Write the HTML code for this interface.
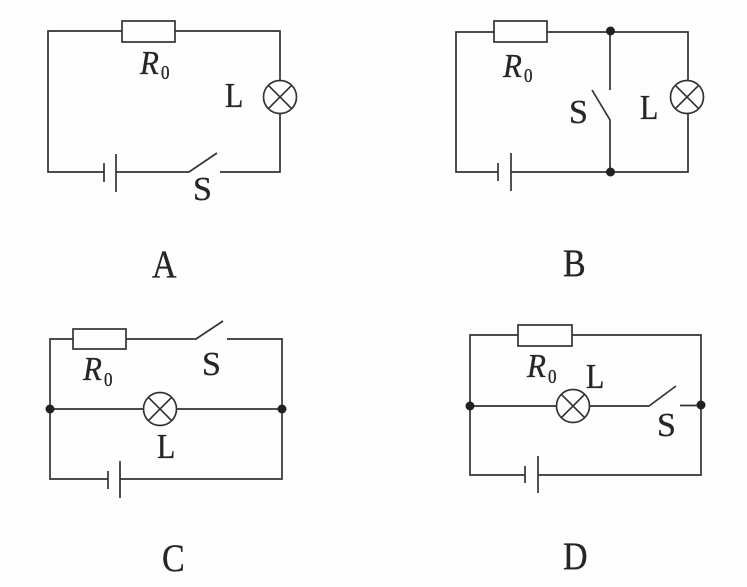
<!DOCTYPE html>
<html>
<head>
<meta charset="utf-8">
<style>
html,body{margin:0;padding:0;background:#fefefe;width:747px;height:587px;overflow:hidden}
svg{display:block}
.w{fill:none;stroke:#333;stroke-width:1.7}
.d{fill:#222;stroke:none}
text{font-family:"Liberation Serif",serif;fill:#262626;stroke:#262626;stroke-width:.3}
.l{font-size:30px}
.s{font-size:34px}
.n{font-size:34px}
.r{font-size:31px;font-style:italic}
.o{font-size:17px}
</style>
</head>
<body>
<svg width="747" height="587" viewBox="0 0 747 587" xmlns="http://www.w3.org/2000/svg">
<!-- A -->
<path class="w" d="M122 31H48V172H104M104 163V182M116 154V192M116 172H189L217 153M220 172H280V114M280 80V31H175"/>
<rect class="w" x="122" y="21" width="53" height="21"/>
<circle class="w" cx="280" cy="97" r="16.5"/>
<path class="w" d="M268.300 85.300L291.700 108.700M291.700 85.300L268.300 108.700"/>
<text class="r" transform="translate(140 74) scale(1 1.1)">R</text><text class="o" transform="translate(161 79) scale(1 1.2)">0</text>
<text class="l" transform="translate(225 107) scale(1 1.15)">L</text>
<text class="s" transform="translate(193 200)">S</text>
<text class="n" transform="translate(152 277) scale(1 1.15)">A</text>

<!-- B -->
<path class="w" d="M494 32H456V172H498M498 163V181M511 153V191M511 172H688V113M688 81V32H547"/>
<path class="w" d="M610 31V90M610 172V120L592 90"/>
<rect class="w" x="494" y="21" width="53" height="21"/>
<circle class="w" cx="687" cy="97" r="16.5"/>
<path class="w" d="M675.300 85.300L698.700 108.700M698.700 85.300L675.300 108.700"/>
<circle class="d" cx="610.500" cy="31" r="4.500"/>
<circle class="d" cx="610.500" cy="172" r="4.500"/>
<text class="r" transform="translate(503 77) scale(1 1.1)">R</text><text class="o" transform="translate(524 82) scale(1 1.2)">0</text>
<text class="s" transform="translate(569 123)">S</text>
<text class="l" transform="translate(640 119) scale(1 1.15)">L</text>
<text class="n" transform="translate(563 276) scale(1 1.15)">B</text>

<!-- C -->
<path class="w" d="M73 339H50V479H108M108 471V489M120 461V498M120 479H282V339H227M126 339H196L223 321"/>
<path class="w" d="M50 409H143.500M176.500 409H282"/>
<rect class="w" x="73" y="329" width="53" height="20"/>
<circle class="w" cx="160" cy="409" r="16.500"/>
<path class="w" d="M148.300 397.300L171.700 420.700M171.700 397.300L148.300 420.700"/>
<circle class="d" cx="50" cy="409" r="4.500"/>
<circle class="d" cx="282" cy="409" r="4.500"/>
<text class="r" transform="translate(83 380) scale(1 1.1)">R</text><text class="o" transform="translate(104 386) scale(1 1.2)">0</text>
<text class="s" transform="translate(202 375)">S</text>
<text class="l" transform="translate(157 458) scale(1 1.15)">L</text>
<text class="n" transform="translate(162 571) scale(1 1.15)">C</text>

<!-- D -->
<path class="w" d="M518 335H470V475H525M525 466V483M538 456V493M538 475H701V335H572"/>
<path class="w" d="M470 406H556.500M589.500 406H649L676 386M680 405.500H701"/>
<rect class="w" x="518" y="325" width="54" height="21"/>
<circle class="w" cx="573" cy="406" r="16.500"/>
<path class="w" d="M561.300 394.300L584.700 417.700M584.700 394.300L561.300 417.700"/>
<circle class="d" cx="470" cy="406" r="4.500"/>
<circle class="d" cx="701" cy="405" r="4.500"/>
<text class="r" transform="translate(527 377) scale(1 1.1)">R</text><text class="o" transform="translate(548 383) scale(1 1.2)">0</text>
<text class="l" transform="translate(586 388) scale(1 1.15)">L</text>
<text class="s" transform="translate(657 436)">S</text>
<text class="n" transform="translate(563 569) scale(1 1.15)">D</text>
</svg>
</body>
</html>
